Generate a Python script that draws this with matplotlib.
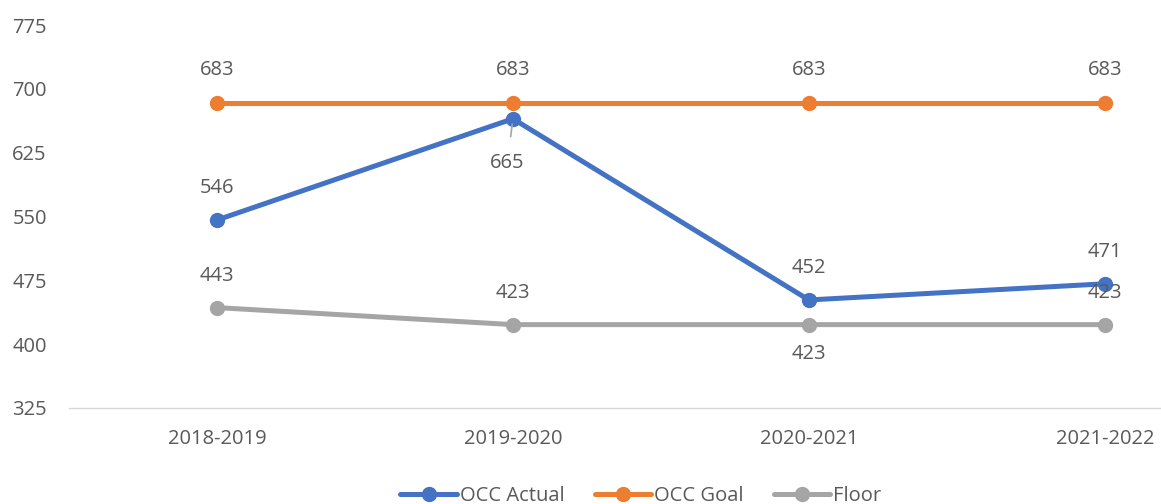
import matplotlib.pyplot as plt

years = ['2018-2019', '2019-2020', '2020-2021', '2021-2022']
occ_actual = [546, 665, 452, 471]
occ_goal = [683, 683, 683, 683]
floor = [443, 423, 423, 423]

plt.rcParams['font.family'] = ['Open Sans', 'DejaVu Sans']
txt = '#595959'
fs = 14.5

fig = plt.figure(figsize=(11.61, 5.04), dpi=100)
ax = fig.add_axes([69 / 1161, 0.1905, 1 - 69 / 1161, 0.7595])

x = range(len(years))
series = [
    (occ_actual, '#4472C4', 'OCC Actual'),
    (occ_goal, '#ED7D31', 'OCC Goal'),
    (floor, '#A5A5A5', 'Floor'),
]
for vals, col, name in series:
    ax.plot(x, vals, color=col, lw=3.6, marker='o', ms=10, label=name,
            solid_capstyle='round')

# data labels: offset in points (+ above, - below)
def lab(i, v, dy, line=False):
    kw = {}
    if line:
        kw['arrowprops'] = dict(arrowstyle='-', color='#A5A5A5', lw=1.2,
                                shrinkA=10, shrinkB=4)
    ax.annotate(str(v), (i, v), xytext=(-4 if line else 0, dy),
                textcoords='offset points', ha='center', va='center',
                fontsize=fs, color=txt, **kw)

for i, v in enumerate(occ_goal):
    lab(i, v, 24)
lab(0, occ_actual[0], 23)
lab(1, occ_actual[1], -32, line=True)
lab(2, occ_actual[2], 23)
lab(3, occ_actual[3], 23)
lab(0, floor[0], 23)
lab(1, floor[1], 23)
lab(2, floor[2], -21)
lab(3, floor[3], 23)

ax.set_xlim(-0.5, 3.19)
ax.set_ylim(325, 775)
ax.set_yticks(range(325, 776, 75))
ax.set_xticks(list(x))
ax.set_xticklabels(years)
ax.tick_params(length=0, labelsize=fs, colors=txt)
ax.tick_params(axis='x', pad=15)
ax.tick_params(axis='y', pad=16)
for s in ['top', 'right', 'left']:
    ax.spines[s].set_visible(False)
ax.spines['bottom'].set_color('#D9D9D9')
ax.spines['bottom'].set_linewidth(1)

fig.legend(loc='lower center', bbox_to_anchor=(0.552, -0.04), ncol=3,
           frameon=False, fontsize=fs, handlelength=2.8, columnspacing=1.5,
           handletextpad=0.15, labelcolor=txt)

fig.savefig('out.png', dpi=100)
